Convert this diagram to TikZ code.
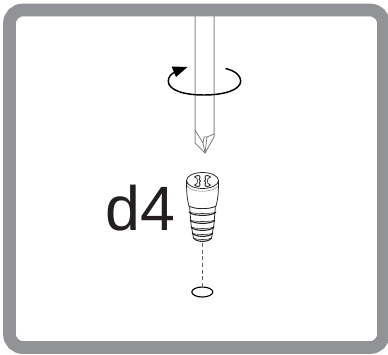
\documentclass[tikz,border=0pt]{standalone}
\usepackage{tikz}
\usepackage{xcolor}
\usepackage{fontspec}
\setmainfont{Liberation Sans}
\definecolor{framegray}{HTML}{929397}
\definecolor{toolgray}{HTML}{8A8A8A}
\definecolor{inkdark}{HTML}{231F20}
\tikzset{
    toolline/.style={draw=toolgray, line width=0.75pt},
    tipline/.style={draw=toolgray!80!black, line width=0.5pt},
    screwline/.style={draw=inkdark, line width=0.55pt},
    threadline/.style={draw=inkdark, line width=0.8pt},
    turnline/.style={draw=black, line width=1.1pt},
}
\begin{document}
\begin{tikzpicture}[x=0.75pt, y=-0.75pt]
    \useasboundingbox (0,0) rectangle (388,354);

    % Outer frame
    \draw[framegray, line width=9.6pt, rounded corners=10pt, fill=white] (9.5,10) rectangle (383.5,347.5);

    % Screwdriver shaft and tip
    \draw[toolline] (195,16) -- (195,143) -- (205,153) -- (214,137) -- (214,16);
    \draw[tipline] (195,130) -- (203,143) -- (205,153);
    \draw[tipline] (214,134) -- (207,137) -- (205,153);
    \draw[tipline] (203,143) -- (204,137) -- (207,137);

    % Rotation arrow
    \draw[turnline] (225.5,68.5) .. controls (236,71) and (240.7,76) .. (240.7,81)
        .. controls (240.7,90) and (224,95) .. (204,95)
        .. controls (183,95) and (168.3,90) .. (168.3,81)
        .. controls (168.3,77) and (171,74) .. (175,72);
    \fill[black] (171.5,66.5) -- (187.5,67) -- (176,77) -- cycle;

    % Label
    \node[inkdark, font=\fontsize{47}{47}\selectfont, anchor=base west, inner sep=0pt] (sizelabel) at (105,230) {d4};

    % Screw thread
    \foreach \y/\w in {205/13.5, 212/13.5, 220/12.5, 227/11.5, 233/10.5, 238/9} {
        \draw[threadline] (202.5-\w,\y) .. controls (202.5-\w+3,\y+4.5) and (202.5+\w-3,\y+4.5) .. (202.5+\w,\y);
        \draw[screwline, line width=0.4pt] (202.5-\w,\y) .. controls (202.5-\w+3,\y+2) and (202.5+\w-3,\y+2) .. (202.5+\w,\y);
    }
    \draw[screwline] (189.5,205) -- (191,224) -- (193.5,238);
    \draw[screwline] (215.5,205) -- (214,224) -- (211.5,238);

    % Screw head
    \draw[screwline, fill=white] (186.5,181) .. controls (186.5,192) and (187,199) .. (189,206)
        .. controls (195,209.5) and (210,209.5) .. (216,206)
        .. controls (218,199) and (218.5,192) .. (218.5,181);
    \draw[screwline] (202.5,180.5) ellipse (16 and 8);
    \draw[toolline, line width=0.4pt] (187,186) .. controls (192,193) and (213,193) .. (218,186);

    % Cross recess
    \begin{scope}[shift={(202.5,181)}]
        \foreach \s in {1,-1} {
            \draw[screwline, line width=0.65pt] (\s*8,-4) .. controls (\s*6,-6) and (\s*2,-6) .. (\s*2.5,-3.5)
                .. controls (\s*3,-1.5) and (\s*4,-1) .. (\s*2,0)
                .. controls (\s*4,1) and (\s*3,2) .. (\s*2.5,3.5)
                .. controls (\s*2,6) and (\s*6,6) .. (\s*8,4);
            \draw[screwline, line width=0.5pt] (\s*8,-4) -- (\s*5.5,-2.5) -- (\s*5,0) -- (\s*5.5,2.5) -- (\s*8,4);
        }
    \end{scope}

    % Locating ring and dashed axis
    \coordinate (screwend) at (202,243);
    \coordinate (ringtop) at (202,287);
    \draw[black, line width=0.85pt] (202.3,292) ellipse (10.5 and 5);
    \draw[toolgray!70!black, line width=0.65pt, dash pattern=on 3pt off 2pt] (screwend) -- (ringtop);
\end{tikzpicture}
\end{document}
